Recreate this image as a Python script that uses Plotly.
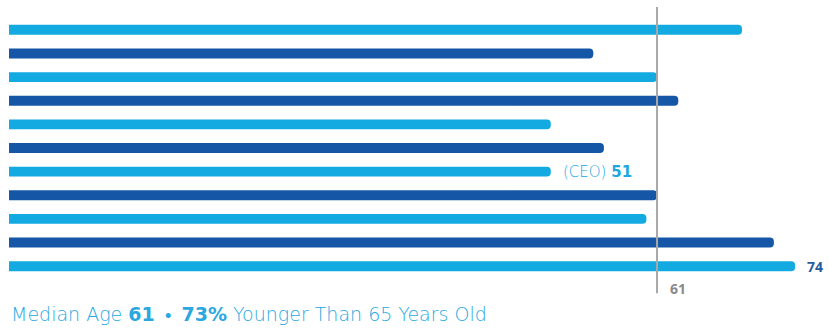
import numpy as np
import plotly.graph_objects as go

# Data: ages of board members (top to bottom)
members = list(range(11))
ages = [69, 55, 61, 63, 51, 56, 51, 61, 60, 72, 74]
ceo_index = 6
median_age = int(np.median(ages))
pct_younger = round(100 * sum(a < 65 for a in ages) / len(ages))

LIGHT = "#13aae2"
DARK = "#1557a6"
colors = [LIGHT if i % 2 == 0 else DARK for i in members]

fig = go.Figure()
fig.add_trace(go.Bar(
    x=ages, y=members, orientation="h",
    marker=dict(color=colors, cornerradius=5, line=dict(width=0)),
    width=0.42, hoverinfo="skip", cliponaxis=False,
))

fig.add_shape(type="line", xref="x", yref="paper",
              x0=median_age, x1=median_age, y0=-0.059, y1=1.042,
              line=dict(color="#a8a8a8", width=2), layer="above")

fig.add_annotation(x=ages[ceo_index], y=ceo_index, xref="x", yref="y",
                   text=f"(CEO) <b>{ages[ceo_index]}</b>", showarrow=False,
                   xanchor="left", xshift=10,
                   font=dict(family="DejaVu Sans", size=15, color="#22a6df", weight=300))
fig.add_annotation(x=max(ages), y=members[-1], xref="x", yref="y",
                   text=f"<b>{max(ages)}</b>", showarrow=False,
                   xanchor="left", xshift=10,
                   font=dict(family="Open Sans", size=14, color="#2a5b9c"))
fig.add_annotation(x=median_age, y=-0.04, xref="x", yref="paper",
                   text=f"<b>{median_age}</b>", showarrow=False,
                   xanchor="left", yanchor="middle", xshift=11,
                   font=dict(family="Open Sans", size=14, color="#8a8a8a"))
NB = "\u00a0"
fig.add_annotation(x=0, y=-0.137, xref="paper", yref="paper",
                   text=(f"Median Age <b>{median_age}</b>"
                         f"<span style='font-size:14px'>{NB}{NB}<b>•</b>{NB}{NB}</span>"
                         f"<b>{pct_younger}%</b> Younger Than 65 Years Old"),
                   showarrow=False, xanchor="left", yanchor="middle",
                   font=dict(family="DejaVu Sans", size=19, color="#2aa8df", weight=300))

fig.update_layout(
    width=829, height=329,
    margin=dict(l=9, r=2, t=18, b=51.4),
    paper_bgcolor="white", plot_bgcolor="white",
    showlegend=False,
    xaxis=dict(range=[0, 77], visible=False, fixedrange=True),
    yaxis=dict(range=[10.5, -0.5], visible=False, fixedrange=True),
)

fig.write_html("out.html")
